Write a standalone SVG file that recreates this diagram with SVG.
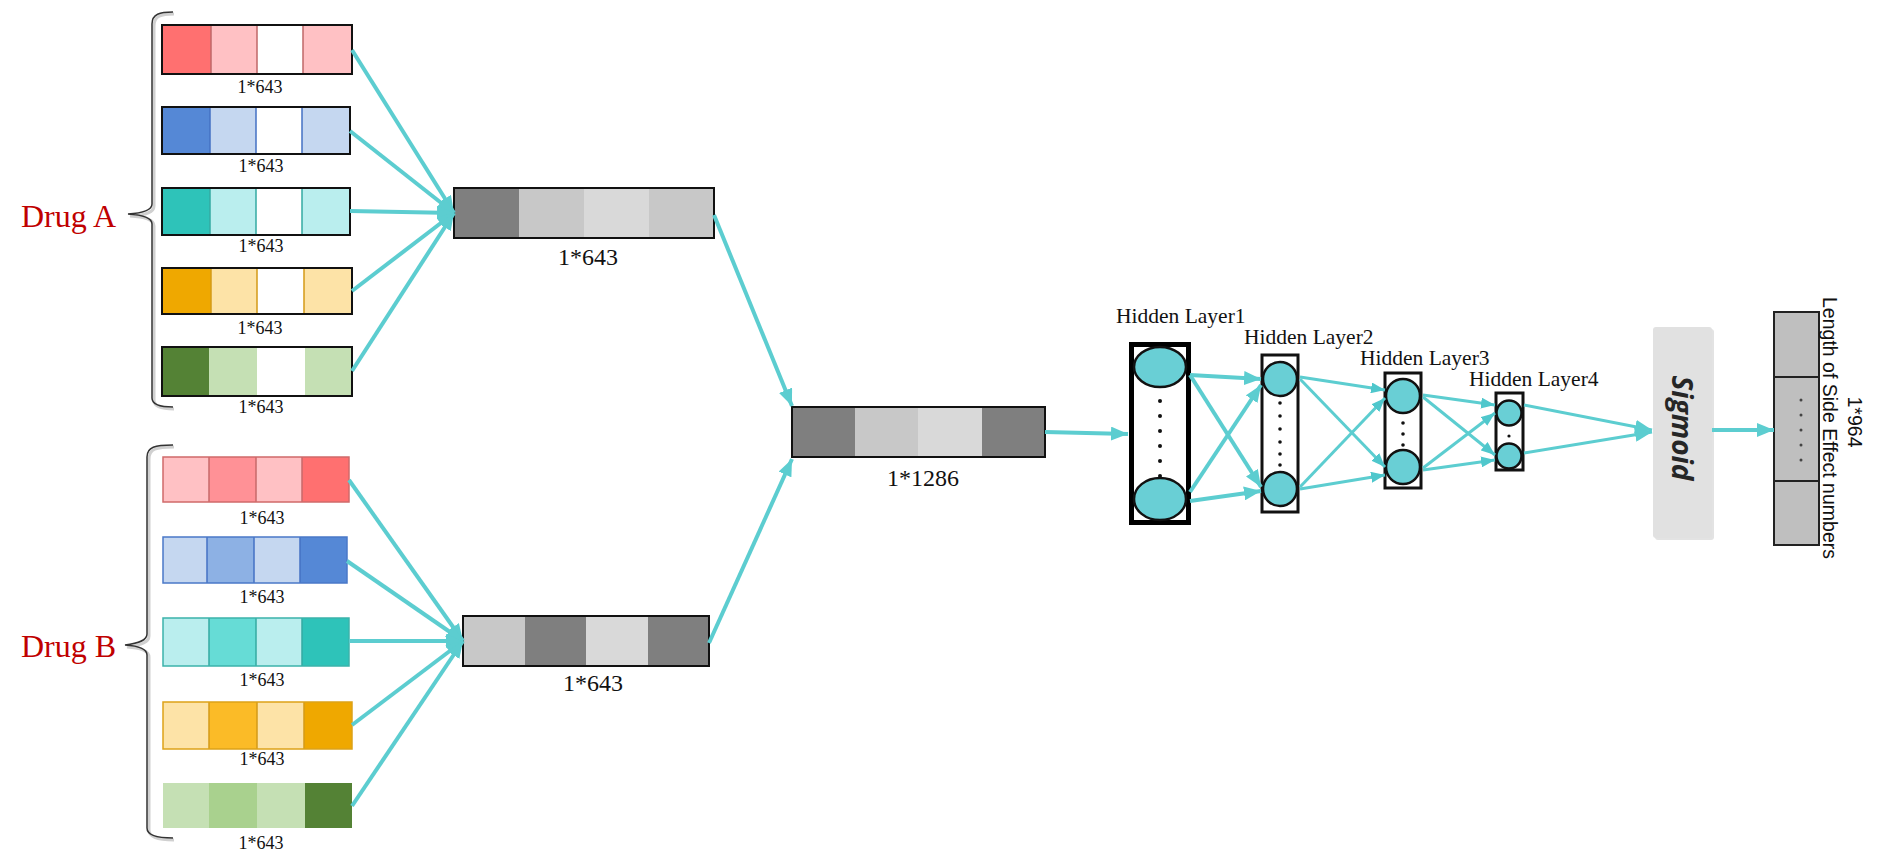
<svg xmlns="http://www.w3.org/2000/svg" width="1879" height="866" viewBox="0 0 1879 866">
<style>
.hl{font-family:"Liberation Serif","Times New Roman",serif;font-size:21.5px;fill:#111}
.drug{font-family:"Liberation Serif","Times New Roman",serif;font-size:32px;fill:#c00000}
.conn{stroke:#5ccdd0;fill:none;stroke-linecap:butt}
.w4{stroke-width:4}
.w3{stroke-width:3}
.brace{fill:none;stroke:#333;stroke-width:1.5}
.braceS{fill:none;stroke:#d0d0d0;stroke-width:3}
.gb{stroke:#111;stroke-width:2;fill:none}
.node{fill:#69cfd5;stroke:#111;stroke-width:2.5}
.dot{fill:#111}
</style>
<defs>
<marker id="ah" markerUnits="userSpaceOnUse" markerWidth="17" markerHeight="14" refX="17" refY="7" orient="auto">
<path d="M0,0 L17,7 L0,14 z" fill="#5ccdd0"/>
</marker>
<marker id="ahs" markerUnits="userSpaceOnUse" markerWidth="14" markerHeight="11" refX="14" refY="5.5" orient="auto">
<path d="M0,0 L14,5.5 L0,11 z" fill="#4fc7cc"/>
</marker>
</defs>

<g id="drugA-label">
<text class="drug" x="21" y="227">Drug A</text>
<path class="braceS" d="M174,14 C161,14 154,16 154,26 L154,206 C154,212 147,215 130,216 C147,217 154,220 154,226 L154,400 C154,406 161,409 174,409"/>
<path class="brace" d="M173,12 C160,12 152,14 152,24 L152,204 C152,210 145,213 128,214 C145,215 152,218 152,224 L152,398 C152,404 160,407 173,407"/>
</g>
<g id="drugB-label">
<text class="drug" x="21" y="657">Drug B</text>
<path class="braceS" d="M174,447 C156,447 149,449 149,459 L149,636 C149,642 142,645 127,647 C142,648 149,651 149,657 L149,830 C149,836 156,840 174,840"/>
<path class="brace" d="M173,445 C155,445 147,447 147,457 L147,634 C147,640 140,643 125,645 C140,646 147,649 147,655 L147,828 C147,834 155,838 173,838"/>
</g>

<g font-family="Liberation Serif, Times New Roman, serif" font-size="18" fill="#111" text-anchor="middle">
<g id="a1">
<rect x="162" y="25" width="49" height="49" fill="#ff7070"/>
<rect x="211" y="25" width="46" height="49" fill="#ffc1c4"/>
<rect x="257" y="25" width="46" height="49" fill="#ffffff"/>
<rect x="303" y="25" width="49" height="49" fill="#ffc1c4"/>
<path d="M211,25V74M257,25V74M303,25V74" stroke="#c06868" stroke-width="1.5"/>
<rect class="gb" x="162" y="25" width="190" height="49"/>
<text x="260" y="93">1*643</text>
</g>
<g id="a2">
<rect x="162" y="107" width="48" height="47" fill="#5588d6"/>
<rect x="210" y="107" width="46" height="47" fill="#c5d7f0"/>
<rect x="256" y="107" width="46" height="47" fill="#ffffff"/>
<rect x="302" y="107" width="48" height="47" fill="#c5d7f0"/>
<path d="M210,107V154M256,107V154M302,107V154" stroke="#4472c4" stroke-width="1.5"/>
<rect class="gb" x="162" y="107" width="188" height="47"/>
<text x="261" y="172">1*643</text>
</g>
<g id="a3">
<rect x="162" y="188" width="48" height="47" fill="#2ec3b9"/>
<rect x="210" y="188" width="46" height="47" fill="#baeeee"/>
<rect x="256" y="188" width="46" height="47" fill="#ffffff"/>
<rect x="302" y="188" width="48" height="47" fill="#baeeee"/>
<path d="M210,188V235M256,188V235M302,188V235" stroke="#34aaa3" stroke-width="1.5"/>
<rect class="gb" x="162" y="188" width="188" height="47"/>
<text x="261" y="252">1*643</text>
</g>
<g id="a4">
<rect x="162" y="268" width="49" height="46" fill="#efa800"/>
<rect x="211" y="268" width="46" height="46" fill="#fde3a7"/>
<rect x="257" y="268" width="47" height="46" fill="#ffffff"/>
<rect x="304" y="268" width="48" height="46" fill="#fde3a7"/>
<path d="M211,268V314M257,268V314M304,268V314" stroke="#d49a18" stroke-width="1.5"/>
<rect class="gb" x="162" y="268" width="190" height="46"/>
<text x="260" y="334">1*643</text>
</g>
<g id="a5">
<rect x="162" y="347" width="47" height="49" fill="#548235"/>
<rect x="209" y="347" width="48" height="49" fill="#c5e0b4"/>
<rect x="257" y="347" width="48" height="49" fill="#ffffff"/>
<rect x="305" y="347" width="47" height="49" fill="#c5e0b4"/>
<rect class="gb" x="162" y="347" width="190" height="49"/>
<text x="261" y="413">1*643</text>
</g>

<g id="b1">
<rect x="163" y="457" width="46" height="45" fill="#ffc1c4"/>
<rect x="209" y="457" width="47" height="45" fill="#ff9196"/>
<rect x="256" y="457" width="46" height="45" fill="#ffc1c4"/>
<rect x="302" y="457" width="47" height="45" fill="#ff7070"/>
<path d="M209,457V502M256,457V502M302,457V502" stroke="#c86a6a" stroke-width="1.5"/>
<rect x="163" y="457" width="186" height="45" fill="none" stroke="#d06a6a" stroke-width="1.5"/>
<text x="262" y="524">1*643</text>
</g>
<g id="b2">
<rect x="163" y="537" width="44" height="46" fill="#c5d7f0"/>
<rect x="207" y="537" width="47" height="46" fill="#8db1e4"/>
<rect x="254" y="537" width="46" height="46" fill="#c5d7f0"/>
<rect x="300" y="537" width="47" height="46" fill="#5588d6"/>
<path d="M207,537V583M254,537V583M300,537V583" stroke="#4472c4" stroke-width="1.5"/>
<rect x="163" y="537" width="184" height="46" fill="none" stroke="#4a78c8" stroke-width="1.5"/>
<text x="262" y="603">1*643</text>
</g>
<g id="b3">
<rect x="163" y="618" width="46" height="48" fill="#baeeee"/>
<rect x="209" y="618" width="47" height="48" fill="#66dcd6"/>
<rect x="256" y="618" width="46" height="48" fill="#baeeee"/>
<rect x="302" y="618" width="47" height="48" fill="#2ec3b9"/>
<path d="M209,618V666M256,618V666M302,618V666" stroke="#34aaa3" stroke-width="1.5"/>
<rect x="163" y="618" width="186" height="48" fill="none" stroke="#3bb3ab" stroke-width="1.5"/>
<text x="262" y="686">1*643</text>
</g>
<g id="b4">
<rect x="163" y="702" width="46" height="47" fill="#fde3a7"/>
<rect x="209" y="702" width="48" height="47" fill="#fbbb27"/>
<rect x="257" y="702" width="47" height="47" fill="#fde3a7"/>
<rect x="304" y="702" width="48" height="47" fill="#efa800"/>
<path d="M209,702V749M257,702V749M304,702V749" stroke="#d49a18" stroke-width="1.5"/>
<rect x="163" y="702" width="189" height="47" fill="none" stroke="#dda218" stroke-width="1.5"/>
<text x="262" y="765">1*643</text>
</g>
<g id="b5">
<rect x="163" y="783" width="46" height="45" fill="#c5e0b4"/>
<rect x="209" y="783" width="48" height="45" fill="#a9d18e"/>
<rect x="257" y="783" width="48" height="45" fill="#c5e0b4"/>
<rect x="305" y="783" width="47" height="45" fill="#548235"/>
<text x="261" y="849">1*643</text>
</g>
</g>

<g font-family="Liberation Serif, Times New Roman, serif" font-size="24" fill="#111" text-anchor="middle">
<g id="poolA">
<rect x="454" y="188" width="65" height="50" fill="#7f7f7f"/>
<rect x="519" y="188" width="65" height="50" fill="#c8c8c8"/>
<rect x="584" y="188" width="65" height="50" fill="#d9d9d9"/>
<rect x="649" y="188" width="65" height="50" fill="#c8c8c8"/>
<rect class="gb" x="454" y="188" width="260" height="50"/>
<text x="588" y="265">1*643</text>
</g>
<g id="poolB">
<rect x="463" y="616" width="62" height="50" fill="#c8c8c8"/>
<rect x="525" y="616" width="61" height="50" fill="#7f7f7f"/>
<rect x="586" y="616" width="62" height="50" fill="#d9d9d9"/>
<rect x="648" y="616" width="61" height="50" fill="#7f7f7f"/>
<rect class="gb" x="463" y="616" width="246" height="50"/>
<text x="593" y="691">1*643</text>
</g>
<g id="merged">
<rect x="792" y="407" width="63" height="50" fill="#7f7f7f"/>
<rect x="855" y="407" width="63" height="50" fill="#c8c8c8"/>
<rect x="918" y="407" width="64" height="50" fill="#d9d9d9"/>
<rect x="982" y="407" width="63" height="50" fill="#7f7f7f"/>
<rect class="gb" x="792" y="407" width="253" height="50"/>
<text x="923" y="486">1*1286</text>
</g>
</g>

<g id="hidden1">
<text class="hl" x="1116" y="323">Hidden Layer1</text>
<rect x="1131.5" y="344.5" width="57" height="178" fill="#fff" stroke="#000" stroke-width="5"/>
<ellipse class="node" cx="1160" cy="367" rx="26" ry="20"/>
<ellipse class="node" cx="1160" cy="499" rx="26" ry="21"/>
<circle class="dot" cx="1160" cy="401" r="2"/>
<circle class="dot" cx="1160" cy="416" r="2"/>
<circle class="dot" cx="1160" cy="431" r="2"/>
<circle class="dot" cx="1160" cy="446" r="2"/>
<circle class="dot" cx="1160" cy="461" r="2"/>
<circle class="dot" cx="1160" cy="476" r="2"/>
</g>
<g id="hidden2">
<text class="hl" x="1244" y="344">Hidden Layer2</text>
<rect x="1262" y="355" width="36" height="157" fill="#fff" stroke="#111" stroke-width="3"/>
<circle class="node" cx="1280" cy="379" r="17"/>
<circle class="node" cx="1280" cy="489" r="17"/>
<circle class="dot" cx="1280" cy="403" r="1.8"/>
<circle class="dot" cx="1280" cy="416" r="1.8"/>
<circle class="dot" cx="1280" cy="429" r="1.8"/>
<circle class="dot" cx="1280" cy="442" r="1.8"/>
<circle class="dot" cx="1280" cy="454" r="1.8"/>
<circle class="dot" cx="1280" cy="465" r="1.8"/>
</g>
<g id="hidden3">
<text class="hl" x="1360" y="365">Hidden Layer3</text>
<rect x="1385" y="373" width="36" height="115" fill="#fff" stroke="#111" stroke-width="3"/>
<circle class="node" cx="1403" cy="396" r="17"/>
<circle class="node" cx="1403" cy="467" r="17"/>
<circle class="dot" cx="1403" cy="423" r="1.8"/>
<circle class="dot" cx="1403" cy="434" r="1.8"/>
<circle class="dot" cx="1403" cy="445" r="1.8"/>
</g>
<g id="hidden4">
<text class="hl" x="1469" y="386">Hidden Layer4</text>
<rect x="1496" y="393" width="27" height="77" fill="#fff" stroke="#111" stroke-width="3"/>
<circle class="node" cx="1509" cy="413" r="12.5"/>
<circle class="node" cx="1509" cy="456" r="12.5"/>
<circle class="dot" cx="1509" cy="436" r="1.6"/>
</g>
<g id="sigmoid">
<rect x="1655" y="329" width="59" height="211" rx="3" fill="#d0d0d0" opacity="0.6"/>
<rect x="1653" y="327" width="59" height="211" rx="3" fill="#e1e1e1"/>
<text transform="translate(1672,428) rotate(90)" x="0" y="0" text-anchor="middle" font-family="'Open Sans','Liberation Sans',Arial,sans-serif" font-size="28" font-weight="bold" font-style="italic" fill="#262626">Sigmoid</text>
</g>
<g id="output">
<rect x="1774" y="312" width="45" height="233" fill="#bfbfbf" stroke="#222" stroke-width="2"/>
<path d="M1774,377H1819M1774,481H1819" stroke="#222" stroke-width="2"/>
<circle cx="1801" cy="400" r="1.5" fill="#444"/>
<circle cx="1801" cy="415" r="1.5" fill="#444"/>
<circle cx="1801" cy="430" r="1.5" fill="#444"/>
<circle cx="1801" cy="445" r="1.5" fill="#444"/>
<circle cx="1801" cy="460" r="1.5" fill="#444"/>
<text transform="translate(1823,297) rotate(90)" x="0" y="0" font-family="'Liberation Sans',Arial,sans-serif" font-size="19.5" fill="#111">Length of Side Effect numbers</text>
<text transform="translate(1848,422) rotate(90)" x="0" y="0" text-anchor="middle" font-family="'Liberation Sans',Arial,sans-serif" font-size="19.5" fill="#111">1*964</text>
</g>

<g id="connectors">
<path class="conn w4" marker-end="url(#ah)" d="M352,50 L454,213"/>
<path class="conn w4" marker-end="url(#ah)" d="M350,131 L454,213"/>
<path class="conn w4" marker-end="url(#ah)" d="M350,211 L454,213"/>
<path class="conn w4" marker-end="url(#ah)" d="M352,291 L454,213"/>
<path class="conn w4" marker-end="url(#ah)" d="M352,371 L454,213"/>
<path class="conn w4" marker-end="url(#ah)" d="M349,480 L463,641"/>
<path class="conn w4" marker-end="url(#ah)" d="M347,561 L463,641"/>
<path class="conn w4" marker-end="url(#ah)" d="M349,641 L463,641"/>
<path class="conn w4" marker-end="url(#ah)" d="M352,725 L463,641"/>
<path class="conn w4" marker-end="url(#ah)" d="M352,806 L463,641"/>
<path class="conn w4" marker-end="url(#ah)" d="M714,215 L792,406"/>
<path class="conn w4" marker-end="url(#ah)" d="M709,643 L792,459"/>
<path class="conn w4" marker-end="url(#ah)" d="M1045,432 L1128,434"/>
<path class="conn w4" marker-end="url(#ah)" d="M1190,375 L1261,379"/>
<path class="conn w4" marker-end="url(#ah)" d="M1190,375 L1261,487"/>
<path class="conn w4" marker-end="url(#ah)" d="M1190,492 L1261,385"/>
<path class="conn w4" marker-end="url(#ah)" d="M1190,501 L1261,491"/>
<path class="conn w3" marker-end="url(#ahs)" d="M1300,377 L1385,390"/>
<path class="conn w3" marker-end="url(#ahs)" d="M1300,379 L1385,467"/>
<path class="conn w3" marker-end="url(#ahs)" d="M1300,487 L1385,398"/>
<path class="conn w3" marker-end="url(#ahs)" d="M1300,489 L1385,475"/>
<path class="conn w3" marker-end="url(#ahs)" d="M1423,395 L1495,405"/>
<path class="conn w3" marker-end="url(#ahs)" d="M1423,397 L1495,455"/>
<path class="conn w3" marker-end="url(#ahs)" d="M1423,468 L1495,413"/>
<path class="conn w3" marker-end="url(#ahs)" d="M1423,470 L1495,460"/>
<path class="conn w3" marker-end="url(#ah)" d="M1524,405 L1652,430"/>
<path class="conn w3" marker-end="url(#ah)" d="M1524,453 L1652,432"/>
<path class="conn w4" marker-end="url(#ah)" d="M1712,430 L1774,430"/>
</g>
</svg>
